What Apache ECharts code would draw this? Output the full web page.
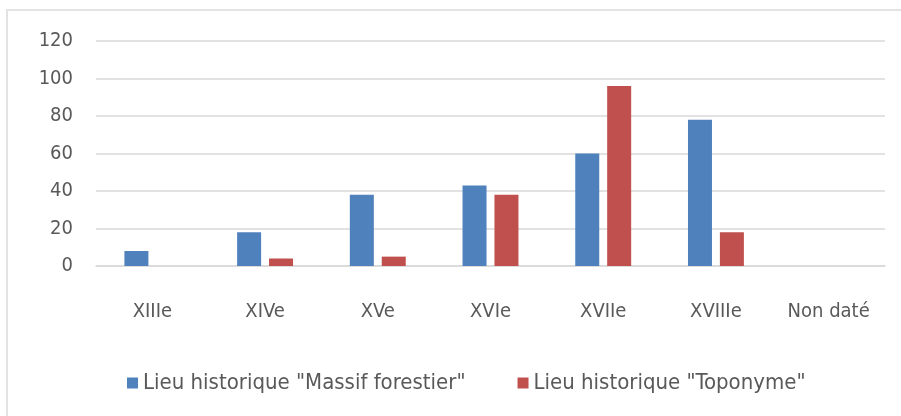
<!DOCTYPE html>
<html>
<head>
<meta charset="utf-8">
<script src="https://cdn.jsdelivr.net/npm/echarts@6/dist/echarts.min.js"></script>
<style>
	html, body {margin: 0; padding: 0; background: #fff;}
	#chart {width: 901px; height: 416px;}
</style>
</head>
<body>
<div id="chart"></div>
<script>
const categories = ['XIIIe', 'XIVe', 'XVe', 'XVIe', 'XVIIe', 'XVIIIe', 'Non daté']
const massifForestier = [8, 18, 38, 43, 60, 78, 0]
const toponyme = [0, 4, 5, 38, 96, 18, 0]
const yTicks = [0, 20, 40, 60, 80, 100, 120]

const font = '"DejaVu Sans Condensed", "DejaVu Sans", sans-serif'
const textColor = '#595959'

const chart = echarts.init(document.getElementById('chart'), null, {renderer: 'canvas'})

chart.setOption({
	backgroundColor: '#fff',
	animation: false,
	textStyle: {fontFamily: font, color: textColor},
	graphic: [{
		type: 'rect',
		shape: {x: 7, y: 10, width: 900, height: 420},
		style: {fill: 'none', stroke: '#e3e3e3', lineWidth: 2}
	}],
	grid: {left: 96, right: 16, top: 41, bottom: 150},
	legend: {
		left: 122,
		top: 367,
		itemWidth: 11,
		itemHeight: 11,
		itemGap: 52,
		icon: 'rect',
		textStyle: {fontFamily: font, fontSize: 22, color: textColor},
		data: ['Lieu historique "Massif forestier"', 'Lieu historique "Toponyme"']
	},
	xAxis: {
		type: 'category',
		data: categories,
		axisLine: {lineStyle: {color: '#d9d9d9', width: 1.5}},
		axisTick: {show: false},
		axisLabel: {fontFamily: font, fontSize: 20, color: textColor, margin: 36}
	},
	yAxis: {
		type: 'value',
		min: yTicks[0],
		max: yTicks[yTicks.length - 1],
		interval: 20,
		axisLine: {show: false},
		axisTick: {show: false},
		splitLine: {lineStyle: {color: '#d9d9d9', width: 1.5}},
		axisLabel: {fontFamily: font, fontSize: 20, color: textColor, margin: 23}
	},
	series: [{
		name: 'Lieu historique "Massif forestier"',
		type: 'bar',
		data: massifForestier,
		barWidth: 24,
		barGap: '33%',
		itemStyle: {color: '#4f81bd'}
	}, {
		name: 'Lieu historique "Toponyme"',
		type: 'bar',
		data: toponyme,
		barWidth: 24,
		itemStyle: {color: '#c0504d'}
	}]
})
</script>
</body>
</html>
